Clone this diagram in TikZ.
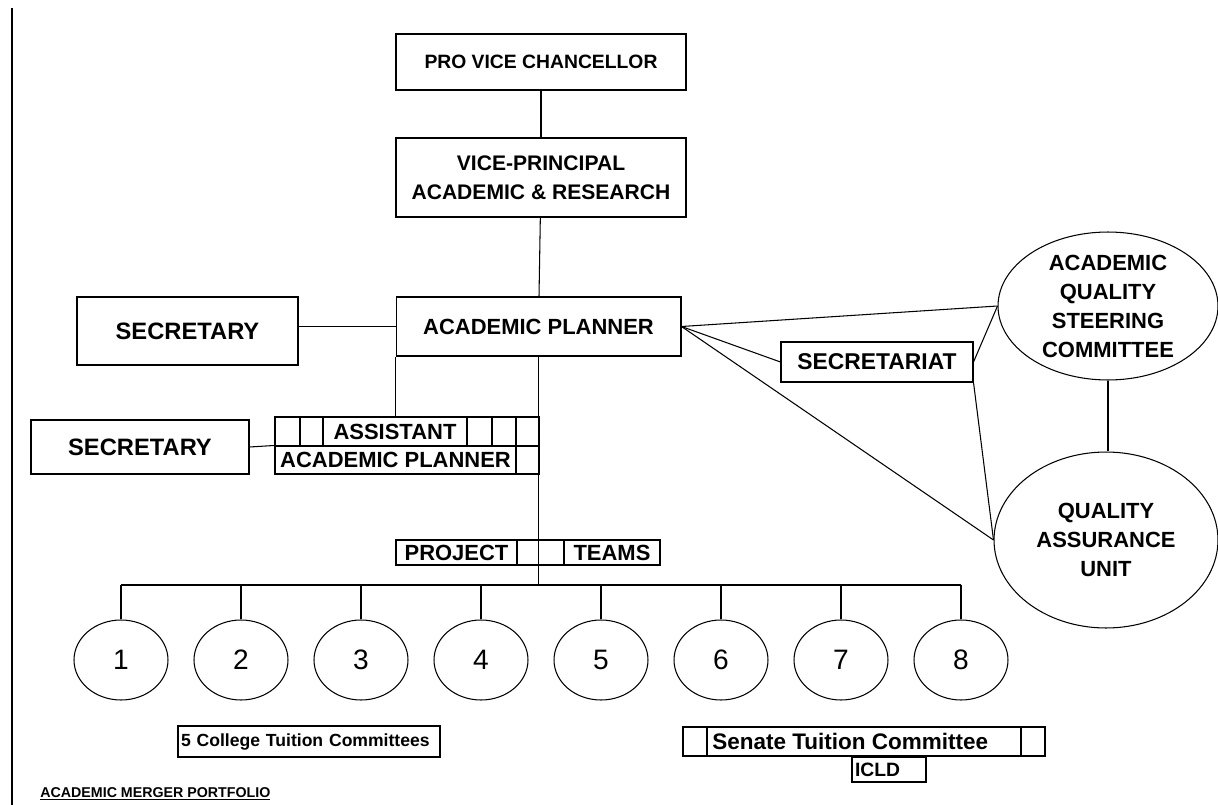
\documentclass[tikz,border=0pt]{standalone}
\usepackage{fontspec}
\setmainfont{Liberation Sans}
\usetikzlibrary{positioning,shapes.geometric,calc}

\begin{document}
\begin{tikzpicture}[x=0.02cm,y=-0.02cm,
      font=\bfseries\fontsize{12.5}{16.5}\selectfont,
      box/.style={draw,line width=0.6pt,align=center,inner sep=0pt},
      heavy/.style={draw,line width=1.6pt,inner sep=0pt},
      grid/.style={line width=1.1pt},
      team/.style={draw,ellipse,line width=0.6pt,inner sep=0pt,minimum width=1.88cm,minimum height=1.6cm,font=\normalfont\fontsize{16}{18}\selectfont},
      body/.style={draw,ellipse,line width=0.6pt,inner sep=0pt,align=center},
      link/.style={draw,line width=0.6pt}]
      \fill[white] (0,0) rectangle (1218,805);
      \useasboundingbox (0,0) rectangle (1218,805);
      \draw[line width=1.7pt] (12,8) -- (12,805);
      % top of the chain
      \node[heavy,minimum width=5.8cm,minimum height=1.12cm,font=\bfseries\fontsize{11}{13}\selectfont] (pvc) at (541,62) {PRO VICE CHANCELLOR};
      \node[box,line width=1.1pt,minimum width=5.8cm,minimum height=1.58cm,font=\bfseries\fontsize{12}{16.5}\selectfont] (vpar) at (541,177.5) {VICE-PRINCIPAL\\ACADEMIC \& RESEARCH};
      \node[box,minimum width=5.7cm,minimum height=1.18cm] (apl) at (538.5,326.5) {ACADEMIC PLANNER};
      \node[box,minimum width=4.42cm,minimum height=1.36cm,font=\bfseries\fontsize{13.5}{16}\selectfont] (sec1) at (187.5,331) {SECRETARY};
      \node[box,minimum width=4.36cm,minimum height=1.08cm,font=\bfseries\fontsize{13.5}{16}\selectfont] (sec2) at (140,447) {SECRETARY};
      % assistant planner grid
      \node[draw,line width=1.3pt,inner sep=0pt,minimum width=5.28cm,minimum height=1.14cm] (asst) at (407,445.5) {};
      \draw[grid] (275,446) -- (539,446);
      \foreach \x in {300,323,467,492} \draw[grid] (\x,417) -- (\x,446);
      \draw[grid] (516,417) -- (516,474);
      \node (asstA) at (395,432) {ASSISTANT};
      \node (asstB) at (395.5,460) {ACADEMIC PLANNER};
      % project teams
      \node[draw,line width=1.1pt,inner sep=0pt,minimum width=5.28cm,minimum height=0.5cm] (ptm) at (528,552.5) {};
      \foreach \x in {517,564} \draw[grid] (\x,540) -- (\x,565);
      \node (ptA) at (456.5,553) {PROJECT};
      \node (ptB) at (612,553) {TEAMS};
      % quality side
      \node[box,minimum width=3.84cm,minimum height=0.8cm,font=\bfseries\fontsize{13}{15}\selectfont] (sctr) at (877,362) {SECRETARIAT};
      \node[body,minimum width=4.4cm,minimum height=2.96cm] (aqsc) at (1108,306) {ACADEMIC\\QUALITY\\STEERING\\COMMITTEE};
      \node[body,minimum width=4.48cm,minimum height=3.52cm] (qau) at (1106,540) {QUALITY\\ASSURANCE\\UNIT};
      % teams
      \foreach \i in {1,...,8} \node[team] (t\i) at ({121+120*(\i-1)},660) {\i};
      \coordinate (barL) at (121,585);
      % committees
      \node[heavy,minimum height=0.62cm,text width=5.12cm,inner xsep=0.06cm,align=left,font=\bfseries\fontsize{10}{12}\selectfont] (coll) at (309,741.5) {5 College Tuition Committees};
      \node[draw,line width=1.3pt,inner sep=0pt,minimum width=7.24cm,minimum height=0.58cm] (stc) at (864,741.5) {};
      \foreach \x in {707,1021} \draw[line width=1.3pt] (\x,727) -- (\x,756);
      \node[anchor=west,inner sep=0pt,font=\bfseries\fontsize{12.8}{14}\selectfont] (stcT) at (712,741.5) {Senate Tuition Committee};
      \node[heavy,minimum width=1.48cm,minimum height=0.5cm,text width=1.36cm,inner xsep=0.06cm,align=left,font=\bfseries\fontsize{11}{12}\selectfont] (icld) at (889,769.5) {ICLD};
      \node[anchor=base west,inner sep=0pt,font=\bfseries\fontsize{8.1}{10}\selectfont] (port) at (40,797) {\underline{ACADEMIC MERGER PORTFOLIO}};
      % connectors
      \draw[link] (pvc) -- (vpar);
      \draw[link] (vpar) -- (apl);
      \draw[link] (apl.west -| sec1.east) -- (apl.west);
      \draw[link] (apl.south west) -- (apl.south west |- asst.north);
      \draw[link] (apl.south) -- (apl.south |- barL);
      \draw[link] (sec2.east) -- (asst.west);
      \draw[link] (apl.east) -- (aqsc.west);
      \draw[link] (apl.east) -- (sctr.west);
      \draw[link] (apl.east) -- (qau.west);
      \draw[link] (sctr.east) -- (aqsc.west);
      \draw[link] (sctr.south east) -- (qau.west);
      \draw[link] (aqsc.south) -- (aqsc.south |- qau.north);
      \draw[link] (t1.north |- barL) -- (t8.north |- barL);
      \foreach \i in {1,...,8} \draw[link] (t\i.north) -- (t\i.north |- barL);
    \end{tikzpicture}
\end{document}
